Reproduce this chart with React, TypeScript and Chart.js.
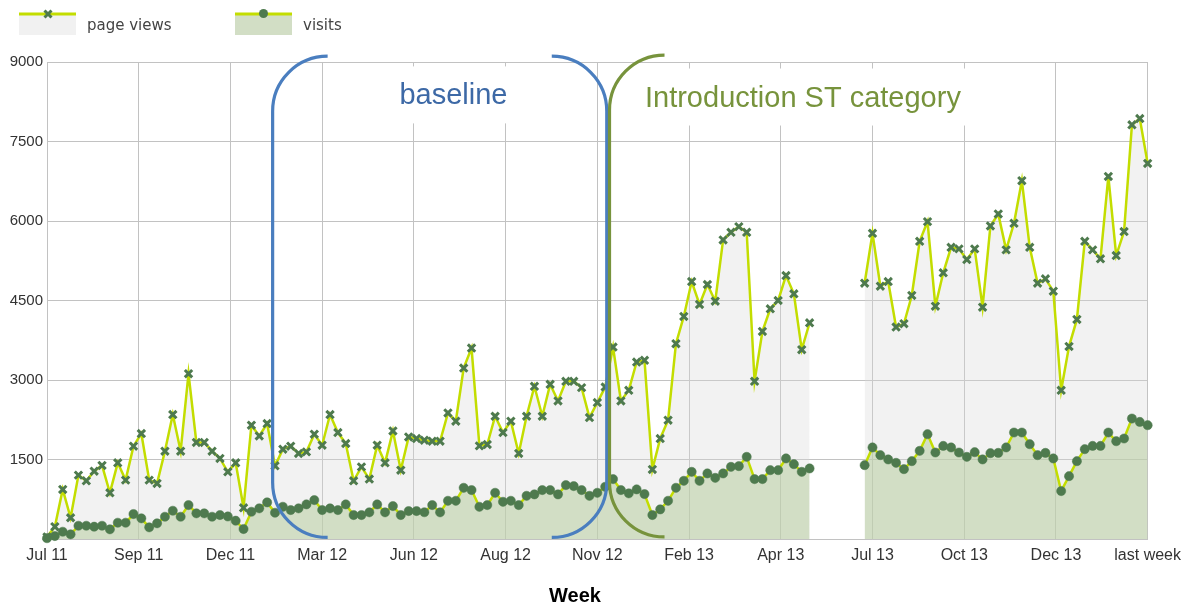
import React, { useEffect, useRef } from "react";
import { Chart, registerables } from "chart.js";

Chart.register(...registerables);

// ---------- data ----------
const xTickLabels = [
  "Jul 11", "Sep 11", "Dec 11", "Mar 12", "Jun 12", "Aug 12", "Nov 12",
  "Feb 13", "Apr 13", "Jul 13", "Oct 13", "Dec 13", "last week",
];

const pageViews: (number | null)[] = [
  40, 232, 936, 401, 1205, 1098, 1280, 1388, 872, 1437,
  1111, 1751, 1990, 1111, 1049, 1657, 2348, 1657, 3120, 1821,
  1821, 1657, 1520, 1267, 1437, 589, 2147, 1945, 2179, 1380,
  1695, 1751, 1614, 1644, 1977, 1770, 2348, 2009, 1802, 1098,
  1361, 1130, 1770, 1437, 2039, 1299, 1926, 1896, 1864, 1845,
  1845, 2378, 2222, 3226, 3602, 1757, 1783, 2316, 2009, 2222,
  1614, 2316, 2881, 2316, 2919, 2604, 2975, 2975, 2856, 2292,
  2574, 2868, 3621, 2604, 2806, 3339, 3371, 1312, 1896, 2241,
  3685, 4199, 4858, 4425, 4802, 4487, 5643, 5787, 5894, 5787,
  2975, 3917, 4344, 4500, 4971, 4626, 3572, 4080, null, null,
  null, null, null, null, 4826, 5768, 4770, 4858, 3998, 4062,
  4595, 5617, 5988, 4393, 5022, 5504, 5474, 5272, 5474, 4374,
  5906, 6133, 5455, 5956, 6760, 5504, 4826, 4909, 4676, 2806,
  3634, 4143, 5617, 5455, 5286, 6841, 5348, 5800, 7814, 7933,
  7086,
];

const visits: (number | null)[] = [
  15, 56, 137, 88, 250, 250, 232, 250, 183, 307,
  307, 471, 390, 220, 296, 420, 533, 420, 640, 484,
  484, 420, 452, 425, 345, 188, 514, 578, 691, 495,
  608, 546, 578, 653, 734, 546, 578, 546, 653, 452,
  452, 503, 653, 503, 621, 452, 527, 527, 505, 640,
  503, 721, 721, 966, 923, 608, 640, 872, 702, 721,
  640, 815, 842, 923, 923, 842, 1017, 998, 923, 815,
  872, 985, 1130, 923, 861, 936, 847, 452, 559, 721,
  966, 1098, 1267, 1098, 1237, 1154, 1237, 1361, 1375, 1550,
  1130, 1130, 1299, 1299, 1520, 1412, 1267, 1331, null, null,
  null, null, null, null, 1393, 1727, 1582, 1501, 1437, 1318,
  1469, 1663, 1977, 1632, 1757, 1727, 1632, 1550, 1638, 1501,
  1620, 1625, 1727, 2009, 2009, 1789, 1582, 1625, 1520, 904,
  1186, 1469, 1695, 1757, 1757, 2009, 1845, 1896, 2273, 2209,
  2147,
];

const yMax = 9000;
const yStep = 1500;

const seriesNames = ["page views", "visits"];
const axisTitle = "Week";

// annotation brackets (positions in data units)
const annotations = [
  {
    text: "baseline",
    openAt: 28.7,
    closeAt: 71.2,
    top: 9110,
    bottom: 30,
    textX: 51.7,
    textY: 8200,
    align: "center" as CanvasTextAlign,
    stroke: "#4a7ebf",
    textColor: "#3d69a6",
  },
  {
    text: "Introduction ST category",
    openAt: 71.55,
    closeAt: null as number | null,
    top: 9130,
    bottom: 40,
    textX: 76.06,
    textY: 8160,
    align: "left" as CanvasTextAlign,
    stroke: "#77933c",
    textColor: "#77933c",
  },
];

// ---------- styles ----------
const LINE = "#c3dd00";
const MARK = "#4e7a4e";
const GRID = "#c2c2c2";
const FONT = "'Liberation Sans', Arial, sans-serif";

const bracketPlugin = {
  id: "brackets",
  beforeDatasetsDraw(chart: any) {
    const ctx: CanvasRenderingContext2D = chart.ctx;
    const xs = chart.scales.x;
    const ys = chart.scales.y;
    ctx.save();
    ctx.font = `29px ${FONT}`;
    for (const a of annotations) {
      const x = xs.getPixelForValue(a.textX);
      const y = ys.getPixelForValue(a.textY);
      const w = ctx.measureText(a.text).width;
      const left = a.align === "center" ? x - w / 2 : x;
      ctx.fillStyle = "#ffffff";
      ctx.fillRect(left - 6, y - 38, w + 12, 57);
      ctx.fillStyle = a.textColor;
      ctx.textAlign = a.align;
      ctx.textBaseline = "alphabetic";
      ctx.fillText(a.text, x, y);
    }
    ctx.restore();
  },
  afterDatasetsDraw(chart: any) {
    const ctx: CanvasRenderingContext2D = chart.ctx;
    const xs = chart.scales.x;
    const ys = chart.scales.y;
    const r = 55;
    ctx.save();
    ctx.lineWidth = 3.2;
    for (const a of annotations) {
      const top = ys.getPixelForValue(a.top);
      const bottom = ys.getPixelForValue(a.bottom);
      ctx.strokeStyle = a.stroke;
      const xo = xs.getPixelForValue(a.openAt);
      ctx.beginPath();
      ctx.moveTo(xo + r, top);
      ctx.arcTo(xo, top, xo, bottom, r);
      ctx.arcTo(xo, bottom, xo + r, bottom, r);
      ctx.lineTo(xo + r, bottom);
      ctx.stroke();
      if (a.closeAt !== null) {
        const xc = xs.getPixelForValue(a.closeAt);
        ctx.beginPath();
        ctx.moveTo(xc - r, top);
        ctx.arcTo(xc, top, xc, bottom, r);
        ctx.arcTo(xc, bottom, xc - r, bottom, r);
        ctx.lineTo(xc - r, bottom);
        ctx.stroke();
      }
    }
    ctx.restore();
  },
};

export default function App() {
  const ref = useRef<HTMLCanvasElement | null>(null);

  useEffect(() => {
    if (!ref.current) return;
    const lastIndex = pageViews.length - 1;
    const chart = new Chart(ref.current, {
      type: "line",
      data: {
        datasets: [
          {
            label: seriesNames[1],
            data: visits.map((v, i) => ({ x: i, y: v })),
            borderColor: LINE,
            borderWidth: 2.5,
            backgroundColor: "rgba(184,206,160,0.55)",
            fill: "origin",
            pointStyle: "circle",
            pointRadius: 4.6,
            pointBackgroundColor: MARK,
            pointBorderColor: MARK,
            pointBorderWidth: 0.5,
            tension: 0,
            spanGaps: false,
            clip: false,
          },
          {
            label: seriesNames[0],
            data: pageViews.map((v, i) => ({ x: i, y: v })),
            borderColor: LINE,
            borderWidth: 2.5,
            backgroundColor: "rgba(215,215,215,0.33)",
            fill: "origin",
            pointStyle: "crossRot",
            pointRadius: 5.2,
            pointBackgroundColor: MARK,
            pointBorderColor: MARK,
            pointBorderWidth: 3,
            tension: 0,
            spanGaps: false,
            clip: false,
          },
        ] as any,
      },
      options: {
        animation: false,
        responsive: false,
        devicePixelRatio: 1,
        layout: { padding: { top: 62, right: 40, left: 0, bottom: 0 } },
        plugins: {
          legend: { display: false },
          tooltip: { enabled: false },
          title: { display: false },
        },
        scales: {
          x: {
            type: "linear",
            min: 0,
            max: lastIndex,
            afterBuildTicks: (scale: any) => {
              scale.ticks = xTickLabels.map((_, k) => ({
                value: (k * lastIndex) / (xTickLabels.length - 1),
              }));
            },
            afterFit: (scale: any) => {
              scale.height = 64;
            },
            ticks: {
              autoSkip: false,
              maxRotation: 0,
              minRotation: 0,
              padding: 7,
              color: "#333333",
              font: { family: FONT, size: 16 },
              callback: (_v: any, idx: number) => xTickLabels[idx],
            },
            grid: { color: GRID, lineWidth: 1, drawTicks: false },
            border: { display: true, color: GRID },
          },
          y: {
            type: "linear",
            min: 0,
            max: yMax,
            ticks: {
              stepSize: yStep,
              padding: 4,
              color: "#333333",
              font: { family: FONT, size: 15 },
              callback: (v: any) => (v === 0 ? "" : String(v)),
            },
            afterFit: (scale: any) => {
              scale.width = 47;
            },
            grid: { color: GRID, lineWidth: 1, drawTicks: false },
            border: { display: true, color: GRID },
          },
        },
      },
      plugins: [bracketPlugin],
    } as any);
    return () => chart.destroy();
  }, []);

  return (
    <div style={{ position: "absolute", left: 0, top: 0, width: 1188, height: 603, background: "#fff" }}>
      <canvas ref={ref} width={1188} height={603} style={{ position: "absolute", left: 0, top: 0, width: 1188, height: 603 }} />
      <svg width={1188} height={603} style={{ position: "absolute", left: 0, top: 0, pointerEvents: "none" }}>
        <rect x={19} y={14} width={57} height={21} fill="#f1f1f1" />
        <line x1={19} x2={76} y1={14} y2={14} stroke={LINE} strokeWidth={3} />
        <path d="M44.5 10.5 L51.5 17.5 M51.5 10.5 L44.5 17.5" stroke={MARK} strokeWidth={3} />
        <text x={87} y={30} fontFamily="'DejaVu Sans', sans-serif" fontSize={15} fill="#444">{seriesNames[0]}</text>
        <rect x={235} y={14} width={57} height={21} fill="#d2dec5" />
        <line x1={235} x2={292} y1={14} y2={14} stroke={LINE} strokeWidth={3} />
        <circle cx={263.5} cy={13.5} r={4.5} fill={MARK} />
        <text x={303} y={30} fontFamily="'DejaVu Sans', sans-serif" fontSize={15} fill="#444">{seriesNames[1]}</text>
        <text x={575} y={602} textAnchor="middle" fontFamily={FONT} fontWeight="bold" fontSize={20} fill="#000">{axisTitle}</text>
      </svg>
    </div>
  );
}
